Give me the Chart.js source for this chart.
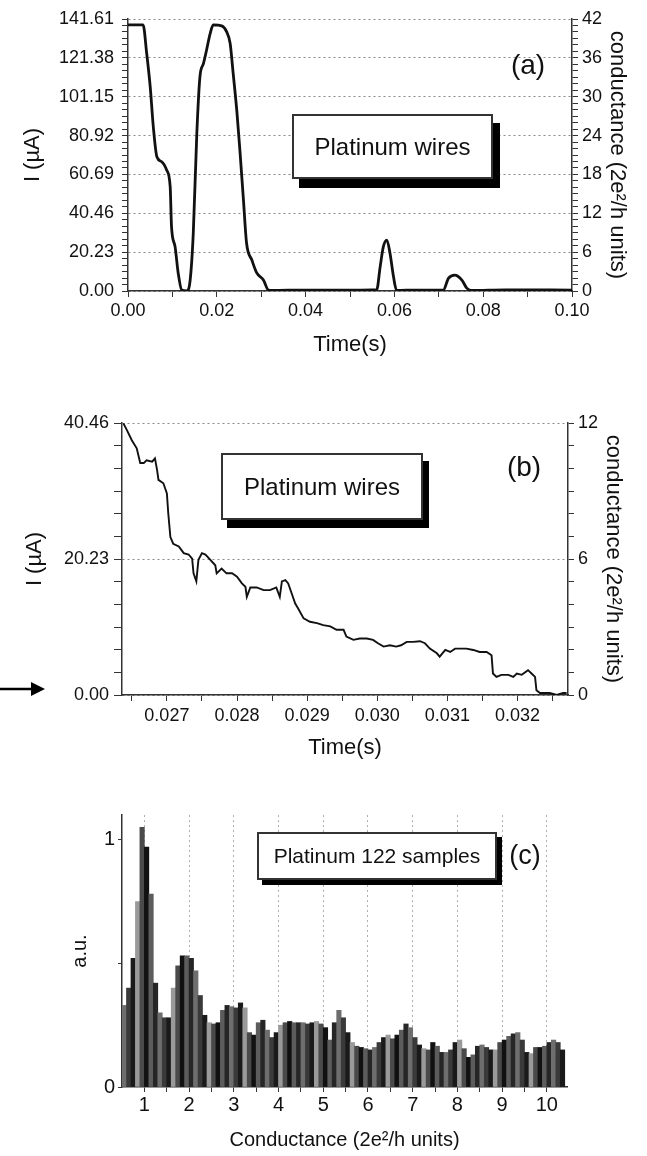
<!DOCTYPE html>
<html>
<head>
<meta charset="utf-8">
<script src="https://cdn.jsdelivr.net/npm/chart.js@4.4.1/dist/chart.umd.min.js"></script>
<style>
  body { margin: 0; background: #fff; width: 647px; height: 1156px; position: relative; overflow: hidden;
         font-family: 'Liberation Sans', Arial, sans-serif; color: #111; }
  canvas { position: absolute; left: 0; }
  .box { position: absolute; box-sizing: border-box; background: #fff; border: 2px solid #333;
         display: flex; align-items: center; justify-content: center; color: #111; }
  .tag { position: absolute; transform: translate(-50%, -50%); color: #111; }
</style>
</head>
<body>
<canvas id="chartA" width="647" height="370" style="top:0"></canvas>
<canvas id="chartB" width="647" height="400" style="top:380px"></canvas>
<canvas id="chartC" width="647" height="376" style="top:780px"></canvas>

<div class="box" style="left:292px;top:114px;width:201px;height:65px;font-size:24px;box-shadow:7px 9px 0 #000">Platinum wires</div>
<div class="tag" style="left:528px;top:65px;font-size:28px">(a)</div>
<div class="box" style="left:221px;top:453px;width:202px;height:67px;font-size:24px;box-shadow:6px 8px 0 #000">Platinum wires</div>
<div class="tag" style="left:524px;top:467px;font-size:28px">(b)</div>
<div class="box" style="left:257px;top:832px;width:240px;height:48px;font-size:21px;box-shadow:5px 5px 0 #000">Platinum 122 samples</div>
<div class="tag" style="left:525px;top:855px;font-size:27px">(c)</div>

<script>
// panel (a): current trace over 0.1 s
const timeA = [0, 0.0034, 0.0042, 0.005, 0.0057, 0.0065, 0.0076, 0.0087, 0.0095, 0.0098,
  0.0106, 0.0113, 0.0121, 0.0132, 0.014, 0.0147, 0.0155, 0.0162, 0.017, 0.0177,
  0.0185, 0.0192, 0.0211, 0.0222, 0.023, 0.0237, 0.0245, 0.0252, 0.026, 0.0267,
  0.0279, 0.029, 0.0305, 0.0316, 0.0324, 0.04, 0.05, 0.055, 0.056, 0.0568,
  0.0575, 0.0583, 0.059, 0.0598, 0.0605, 0.065, 0.071, 0.0722, 0.0736, 0.0752,
  0.0763, 0.0774, 0.085, 0.1];
const currentA = [138.5, 138.5, 123.9, 106.4, 85.5, 69.9, 67.3, 63, 54.3, 33.5,
  23.1, 9.4, 0.5, 0, 5.7, 30, 82, 111.5, 118.5, 125.5,
  134, 138.5, 138, 135, 129, 113, 94, 73.4, 47.4, 25,
  16.1, 9.4, 5.7, 0.5, 0.3, 0.5, 0.4, 0.6, 0.5, 12.7,
  23, 26.5, 19.8, 7.4, 0.3, 0.5, 0.5, 6.7, 8.3, 5.7,
  1.5, 0.3, 0.6, 0.5];

// panel (b): zoom on the last plateaus
const timeB = [0.02638, 0.02643, 0.0265, 0.02657, 0.02662, 0.02667, 0.02671, 0.02679, 0.02683, 0.02686,
  0.02688, 0.02695, 0.027, 0.02702, 0.02705, 0.02709, 0.02717, 0.02724, 0.02731, 0.02736,
  0.02738, 0.02742, 0.02745, 0.0275, 0.02755, 0.02762, 0.02769, 0.02771, 0.02778, 0.02785,
  0.02793, 0.028, 0.02807, 0.02812, 0.02814, 0.02819, 0.02828, 0.02838, 0.02847, 0.02856,
  0.02861, 0.02864, 0.02869, 0.02873, 0.02878, 0.02883, 0.02887, 0.02895, 0.02904, 0.02914,
  0.02923, 0.02933, 0.02942, 0.02952, 0.02956, 0.02966, 0.02975, 0.02985, 0.02994, 0.03001,
  0.03009, 0.03018, 0.03027, 0.03034, 0.03042, 0.03051, 0.03061, 0.03068, 0.03075, 0.03085,
  0.03089, 0.03097, 0.03104, 0.03111, 0.03118, 0.03127, 0.03137, 0.03146, 0.03156, 0.03163,
  0.03165, 0.0317, 0.03177, 0.03187, 0.03194, 0.03199, 0.03206, 0.03215, 0.0322, 0.03225,
  0.03227, 0.03232, 0.03246, 0.03256, 0.03265, 0.0327];
const currentB = [40.4, 39.4, 37.9, 36.7, 34.5, 34.5, 34.9, 34.7, 35.2, 33.5,
  32, 31.5, 30, 27, 23.5, 22.5, 22.1, 21.1, 20.9, 20.3,
  18.1, 16.9, 20.1, 21.1, 20.9, 20.1, 19.3, 18.1, 18.8, 18.1,
  18.1, 17.6, 16.6, 16.1, 14.6, 16, 16, 15.6, 15.6, 16,
  14.6, 16.9, 17.1, 16.6, 15.1, 13.6, 12.9, 11.4, 10.9, 10.7,
  10.4, 10.2, 9.7, 9.7, 8.7, 8.2, 8.4, 8.4, 8.2, 7.7,
  7.2, 7.4, 7.2, 7.4, 7.9, 7.9, 8.0, 7.7, 6.9, 6.2,
  5.7, 6.7, 6.4, 6.9, 6.9, 6.9, 6.7, 6.4, 6.4, 5.9,
  3.2, 2.7, 3.0, 3.0, 2.7, 3.2, 3.0, 3.7, 3.2, 2.7,
  0.7, 0.3, 0.3, 0, 0.3, 0.3];

// panel (c): conductance histogram, bins of 0.1 starting at 0.5
const binStart = 0.5;
const binWidth = 0.1;
const histC = [0.33, 0.40, 0.52, 0.75, 1.05, 0.97, 0.78, 0.42, 0.30, 0.28,
  0.28, 0.40, 0.49, 0.53, 0.53, 0.52, 0.47, 0.37, 0.29, 0.26,
  0.255, 0.26, 0.31, 0.33, 0.325, 0.32, 0.34, 0.32, 0.22, 0.21,
  0.26, 0.27, 0.23, 0.20, 0.22, 0.25, 0.26, 0.265, 0.26, 0.26,
  0.26, 0.255, 0.26, 0.265, 0.255, 0.24, 0.19, 0.26, 0.31, 0.28,
  0.22, 0.18, 0.165, 0.16, 0.155, 0.15, 0.16, 0.18, 0.20, 0.21,
  0.195, 0.21, 0.23, 0.255, 0.24, 0.20, 0.17, 0.155, 0.15, 0.18,
  0.165, 0.14, 0.14, 0.15, 0.18, 0.19, 0.155, 0.12, 0.13, 0.165,
  0.17, 0.16, 0.15, 0.15, 0.18, 0.19, 0.205, 0.215, 0.22, 0.19,
  0.14, 0.135, 0.16, 0.16, 0.165, 0.18, 0.19, 0.18, 0.15];

// tick labels
const currentTicksA = [0, 20.23, 40.46, 60.69, 80.92, 101.15, 121.38, 141.61];
const condTicksA = [0, 6, 12, 18, 24, 30, 36, 42];
const timeTicksA = [0, 0.02, 0.04, 0.06, 0.08, 0.10];
const currentTicksB = [0, 20.23, 40.46];
const condTicksB = [0, 6, 12];
const timeTicksB = [0.027, 0.028, 0.029, 0.030, 0.031, 0.032];
const histTicksY = [0, 1];
const histTicksX = [1, 2, 3, 4, 5, 6, 7, 8, 9, 10];

const grays = ['#6e6e6e', '#3a3a3a', '#1a1a1a', '#9a9a9a', '#4a4a4a', '#111111', '#5c5c5c', '#262626'];

Chart.defaults.font.family = "'Liberation Sans', Arial, sans-serif";
Chart.defaults.color = '#111';

// majors plus evenly spaced minor ticks between them
function tickSet(majors, parts) {
  const out = [];
  majors.forEach((v, i) => {
    out.push({ value: v, major: true });
    if (i < majors.length - 1) {
      const step = (majors[i + 1] - v) / parts;
      for (let k = 1; k < parts; k++) out.push({ value: v + k * step, major: false });
    }
  });
  return out;
}

const dotted = c => (c.tick && c.tick.major) ? '#8a8a8a' : 'rgba(0,0,0,0)';

function axis(opts) {
  return Object.assign({
    type: 'linear',
    border: { color: '#333', width: 1.5, dash: [2, 3] },
    grid: { drawOnChartArea: false, tickColor: '#333', tickLength: 6 },
    ticks: { autoSkip: false, maxRotation: 0, font: { size: 18 }, color: '#111' }
  }, opts);
}

const noChrome = { legend: { display: false }, tooltip: { enabled: false } };

// ---- (a)
new Chart(document.getElementById('chartA'), {
  type: 'line',
  data: { datasets: [{
    data: timeA.map((t, i) => ({ x: t, y: currentA[i] })),
    borderColor: '#111', borderWidth: 2.8, pointRadius: 0,
    tension: 0.3, cubicInterpolationMode: 'monotone'
  }] },
  options: {
    responsive: false, animation: false,
    layout: { padding: { top: 19, left: 0, right: 0, bottom: 0 } },
    plugins: noChrome,
    scales: {
      x: axis({
        min: 0, max: 0.1, position: 'bottom',
        afterBuildTicks: s => { s.ticks = tickSet(timeTicksA, 2); },
        afterFit: s => { s.height = 79; },
        ticks: { autoSkip: false, maxRotation: 0, font: { size: 18 }, color: '#111', padding: 3,
                 callback: (v, i, t) => t[i].major ? v.toFixed(2) : '' },
        title: { display: true, text: 'Time(s)', font: { size: 22 }, color: '#111', padding: { bottom: 12 } }
      }),
      y: axis({
        min: 0, max: 141.61, position: 'left',
        afterBuildTicks: s => { s.ticks = tickSet(currentTicksA, 6); },
        afterFit: s => { s.width = 128; },
        grid: { drawOnChartArea: true, color: dotted, tickColor: '#333', tickLength: 6 },
        ticks: { autoSkip: false, font: { size: 18 }, color: '#111', padding: 8,
                 callback: (v, i, t) => t[i].major ? v.toFixed(2) : '' },
        title: { display: true, text: 'I (µA)', font: { size: 22 }, color: '#111', padding: { top: 20 } }
      }),
      y2: axis({
        min: 0, max: 42, position: 'right',
        afterBuildTicks: s => { s.ticks = tickSet(condTicksA, 6); },
        afterFit: s => { s.width = 75; },
        ticks: { autoSkip: false, font: { size: 18 }, color: '#111', padding: 4,
                 callback: (v, i, t) => t[i].major ? String(v) : '' },
        title: { display: true, text: 'conductance (2e²/h units)', font: { size: 22 }, color: '#111', padding: { top: 17 } }
      })
    }
  }
});

// ---- (b)
const arrowMark = {
  id: 'arrowMark',
  afterDraw(chart) {
    const ctx = chart.ctx;
    const y = chart.scales.y.getPixelForValue(0) - 6;
    ctx.save();
    ctx.strokeStyle = '#000';
    ctx.fillStyle = '#000';
    ctx.lineWidth = 2.5;
    ctx.beginPath(); ctx.moveTo(0, y); ctx.lineTo(34, y); ctx.stroke();
    ctx.beginPath(); ctx.moveTo(31, y - 7); ctx.lineTo(45, y); ctx.lineTo(31, y + 7); ctx.closePath(); ctx.fill();
    ctx.restore();
  }
};

new Chart(document.getElementById('chartB'), {
  type: 'line',
  data: { datasets: [{
    data: timeB.map((t, i) => ({ x: t, y: currentB[i] })),
    borderColor: '#111', borderWidth: 1.9, pointRadius: 0, tension: 0
  }] },
  options: {
    responsive: false, animation: false,
    layout: { padding: { top: 43, left: 0, right: 0, bottom: 0 } },
    plugins: noChrome,
    scales: {
      x: axis({
        min: 0.02636, max: 0.03272, position: 'bottom',
        afterBuildTicks: s => { s.ticks = [{ value: 0.0265, major: false }, ...tickSet(timeTicksB, 2), { value: 0.0325, major: false }]; },
        afterFit: s => { s.height = 85; },
        ticks: { autoSkip: false, maxRotation: 0, font: { size: 18 }, color: '#111', padding: 4,
                 callback: (v, i, t) => t[i].major ? v.toFixed(3) : '' },
        title: { display: true, text: 'Time(s)', font: { size: 22 }, color: '#111', padding: { bottom: 19 } }
      }),
      y: axis({
        min: 0, max: 40.46, position: 'left',
        afterBuildTicks: s => { s.ticks = tickSet(currentTicksB, 6); },
        afterFit: s => { s.width = 122; },
        grid: { drawOnChartArea: true, color: dotted, tickColor: '#333', tickLength: 8 },
        ticks: { autoSkip: false, font: { size: 18 }, color: '#111', padding: 5,
                 callback: (v, i, t) => t[i].major ? v.toFixed(2) : '' },
        title: { display: true, text: 'I (µA)', font: { size: 22 }, color: '#111', padding: { top: 22 } }
      }),
      y2: axis({
        min: 0, max: 12, position: 'right',
        afterBuildTicks: s => { s.ticks = tickSet(condTicksB, 6); },
        afterFit: s => { s.width = 79; },
        ticks: { autoSkip: false, font: { size: 18 }, color: '#111', padding: 4,
                 callback: (v, i, t) => t[i].major ? String(v) : '' },
        title: { display: true, text: 'conductance (2e²/h units)', font: { size: 22 }, color: '#111', padding: { top: 21 } }
      })
    }
  },
  plugins: [arrowMark]
});

// ---- (c)
new Chart(document.getElementById('chartC'), {
  type: 'bar',
  data: { datasets: [{
    data: histC.map((v, i) => ({ x: binStart + binWidth * (i + 0.5), y: v })),
    backgroundColor: histC.map((v, i) => grays[i % grays.length]),
    borderWidth: 0, barPercentage: 1, categoryPercentage: 1
  }] },
  options: {
    responsive: false, animation: false,
    layout: { padding: { top: 35, left: 0, right: 80, bottom: 0 } },
    plugins: noChrome,
    scales: {
      x: axis({
        min: 0.5, max: 10.45, position: 'bottom', offset: false,
        afterBuildTicks: s => { s.ticks = tickSet(histTicksX, 2); },
        afterFit: s => { s.height = 69; },
        border: { color: '#333', width: 1.5, dash: [2, 3] },
        grid: { offset: false, drawOnChartArea: true, color: c => (c.tick && c.tick.major) ? '#b0b0b0' : 'rgba(0,0,0,0)', tickColor: '#333', tickLength: 5 },
        ticks: { autoSkip: false, maxRotation: 0, font: { size: 20 }, color: '#111', padding: 1,
                 callback: (v, i, t) => t[i].major ? String(v) : '' },
        title: { display: true, text: 'Conductance (2e²/h units)', font: { size: 20 }, color: '#111', padding: { bottom: 4 } }
      }),
      y: axis({
        min: 0, max: 1.1, position: 'left',
        afterBuildTicks: s => { s.ticks = tickSet(histTicksY, 2); },
        afterFit: s => { s.width = 122; },
        grid: { drawOnChartArea: false, tickColor: '#333', tickLength: 4 },
        ticks: { autoSkip: false, font: { size: 20 }, color: '#111', padding: 3,
                 callback: (v, i, t) => t[i].major ? String(v) : '' },
        title: { display: true, text: 'a.u.', font: { size: 20 }, color: '#111', padding: { top: 68 } }
      })
    }
  }
});
</script>
</body>
</html>
